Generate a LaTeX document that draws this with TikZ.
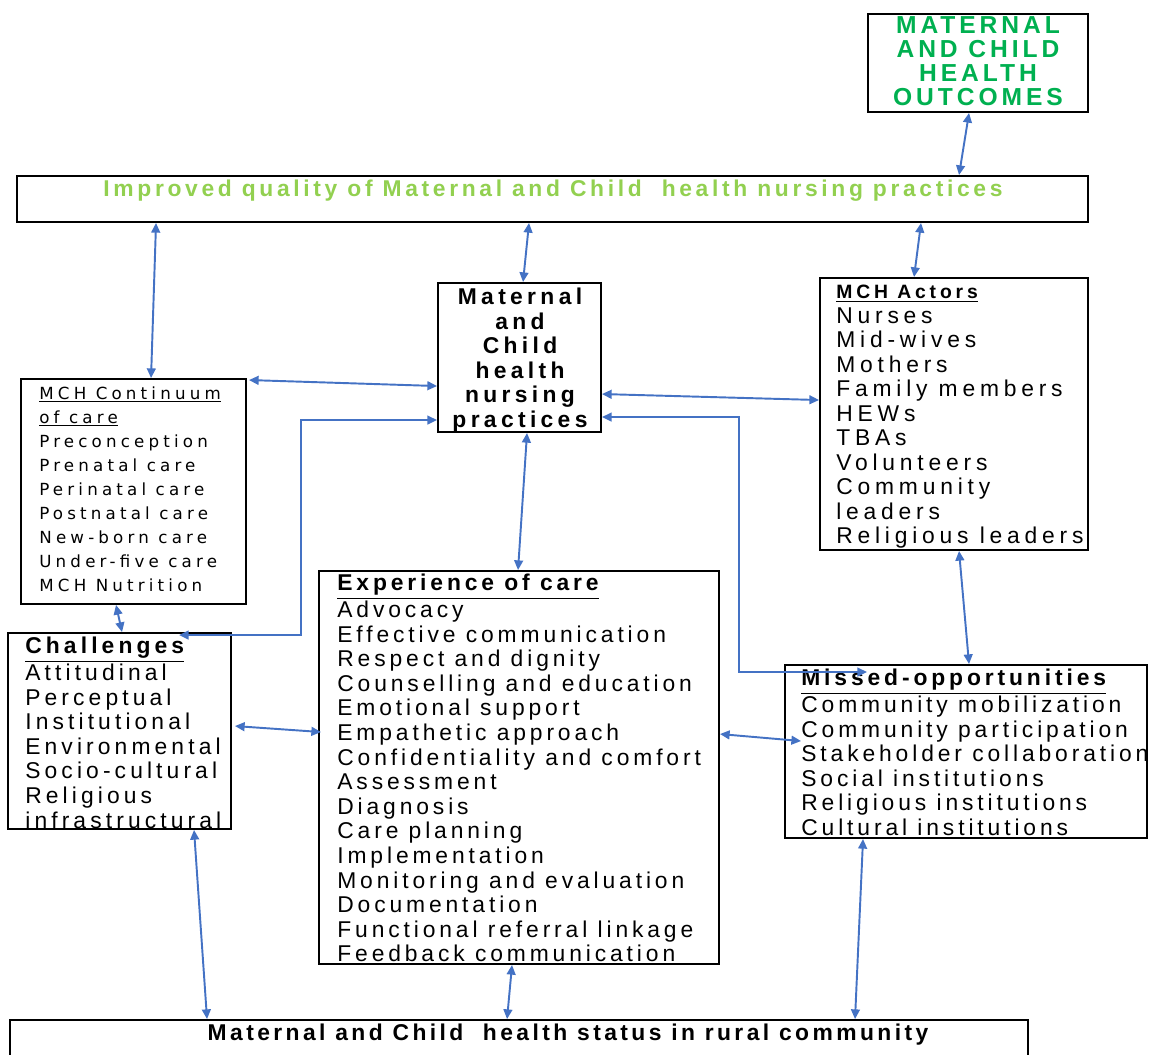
\documentclass[tikz,border=0pt]{standalone}
\usepackage{fontspec}
\setmainfont{Liberation Sans}
% letter-spaced families for the box texts
\newfontfamily\fItem[LetterSpace=17]{Liberation Sans}
\newfontfamily\fChal[LetterSpace=18]{Liberation Sans}
\newfontfamily\fActor[LetterSpace=21]{Liberation Sans}
\newfontfamily\fActHead[LetterSpace=20]{Liberation Sans}
\newfontfamily\fCont[LetterSpace=25]{DejaVu Sans}
\newfontfamily\fHead[LetterSpace=16]{Liberation Sans}
\newfontfamily\fBase[LetterSpace=15]{Liberation Sans}
\newfontfamily\fPrac[LetterSpace=19]{Liberation Sans}
\usetikzlibrary{arrows.meta,calc,fit}
\definecolor{linkblue}{RGB}{68,114,196}
\definecolor{outgreen}{RGB}{0,176,80}
\definecolor{headgreen}{RGB}{146,208,80}
\begin{document}
\begin{tikzpicture}[x=0.02cm,y=-0.02cm,
  box/.style={draw=black, line width=1.1pt, inner sep=0pt},
  txt/.style={inner sep=0pt, align=left, anchor=north west},
  link/.style={draw=linkblue, line width=1.1pt,
    {Triangle[length=5.5pt,width=5pt]}-{Triangle[length=5.5pt,width=5pt]}},
  items/.style={font={\fItem\fontsize{13pt}{14pt}\selectfont}}]
\useasboundingbox (0,0) rectangle (1150,1055);
\clip (0,0) rectangle (1150,1055);

% boxes
\node[box, fit={(868,14)(1088,112)}] (out) {};
\node[box, fit={(17,176)(1088,222)}] (imp) {};
\node[box, fit={(438,283)(601,432)}] (prac) {};
\node[box, fit={(820,278)(1088,550)}] (act) {};
\node[box, fit={(21,379)(246,604)}] (cont) {};
\node[box, fit={(8,633)(231,829)}] (chal) {};
\node[box, fit={(319,571)(719,964)}] (exp) {};
\node[box, fit={(785,665)(1147,838)}] (miss) {};
\node[box, fit={(10,1020)(1028,1090)}] (bot) {};

% texts
\node[inner sep=0pt, anchor=north, align=center, text=outgreen,
  font={\fHead\bfseries\fontsize{14pt}{13.7pt}\selectfont}] (outT) at (978,16)
  {MATERNAL\\AND CHILD\\HEALTH\\OUTCOMES};
\node[inner sep=0pt, anchor=base, text=headgreen,
  font={\fHead\bfseries\fontsize{13pt}{14pt}\selectfont}] (impT) at (553,196)
  {Improved quality of Maternal and Child~ health nursing practices};
\node[inner sep=0pt, anchor=north, align=center,
  font={\fPrac\bfseries\fontsize{13pt}{13.9pt}\selectfont}] (pracT) at (520,288)
  {Maternal\\and\\Child\\health\\nursing\\practices};
\node[txt, font={\fActor\fontsize{13pt}{13.95pt}\selectfont}] (actT) at (836,285)
  {{\fActHead\bfseries\fontsize{11pt}{13.95pt}\selectfont\underline{MCH Actors}}\\
   Nurses\\Mid-wives\\Mothers\\Family members\\HEWs\\TBAs\\Volunteers\\
   Community\\leaders\\Religious leaders};
\node[txt, font={\fCont\fontsize{9.5pt}{13.66pt}\selectfont}] (contT) at (39,386)
  {\underline{MCH Continuum}\\\underline{of care}\\Preconception\\Prenatal care\\
   Perinatal care\\Postnatal care\\New-born care\\Under-five care\\MCH Nutrition};
\node[txt, font={\fChal\fontsize{13pt}{14pt}\selectfont}] (chalT) at (25,637)
  {\underline{\bfseries Challenges}\\Attitudinal\\Perceptual\\Institutional\\
   Environmental\\Socio-cultural\\Religious\\infrastructural};
\node[txt, items] (expT) at (337,574)
  {\underline{\bfseries Experience of care}\\Advocacy\\Effective communication\\
   Respect and dignity\\Counselling and education\\Emotional support\\
   Empathetic approach\\Confidentiality and comfort\\Assessment\\Diagnosis\\
   Care planning\\Implementation\\Monitoring and evaluation\\Documentation\\
   Functional referral linkage\\Feedback communication};
\node[txt, items] (missT) at (801,669)
  {\underline{\bfseries Missed-opportunities}\\Community mobilization\\
   Community participation\\Stakeholder collaboration\\Social institutions\\
   Religious institutions\\Cultural institutions};
\node[inner sep=0pt, anchor=base,
  font={\fBase\bfseries\fontsize{13pt}{14pt}\selectfont}] (botT) at (568,1040)
  {Maternal and Child~ health status in rural community};

% connectors
\draw[link] ($(out.south west)+(102,0)$) -- ($(imp.north west)+(943,0)$);
\draw[link] ($(imp.south west)+(140,0)$) -- ($(cont.north west)+(131,0)$);
\draw[link] ($(imp.south west)+(513,0)$) -- ($(prac.north west)+(86,0)$);
\draw[link] ($(imp.south west)+(905,0)$) -- ($(act.north west)+(95,0)$);
\draw[link] ($(cont.north east)+(2,2)$) -- ($(prac.north west)+(0,104)$);
\draw[link] ($(prac.north east)+(0,112)$) -- ($(act.north west)+(0,123)$);
\draw[link] ($(chal.north west)+(172,3)$) -- ++(122,0) |- ($(prac.north west)+(0,138)$);
\draw[link] ($(prac.north east)+(0,135)$) -- ++(137,0) |- ($(miss.north west)+(83,8)$);
\draw[link] ($(prac.south west)+(90,0)$) -- ($(exp.north west)+(200,0)$);
\draw[link] ($(cont.south west)+(96,0)$) -- ($(chal.north west)+(115,0)$);
\draw[link] ($(chal.north east)+(3,94)$) -- ($(exp.north west)+(3,162)$);
\draw[link] ($(exp.north east)+(0,164)$) -- ($(miss.north west)+(17,77)$);
\draw[link] ($(act.south west)+(140,0)$) -- ($(miss.north west)+(185,0)$);
\draw[link] ($(chal.south west)+(187,0)$) -- ($(bot.north west)+(198,0)$);
\draw[link] ($(exp.south west)+(194,0)$) -- ($(bot.north west)+(498,0)$);
\draw[link] ($(miss.south west)+(79,0)$) -- ($(bot.north west)+(846,0)$);
\end{tikzpicture}
\end{document}
